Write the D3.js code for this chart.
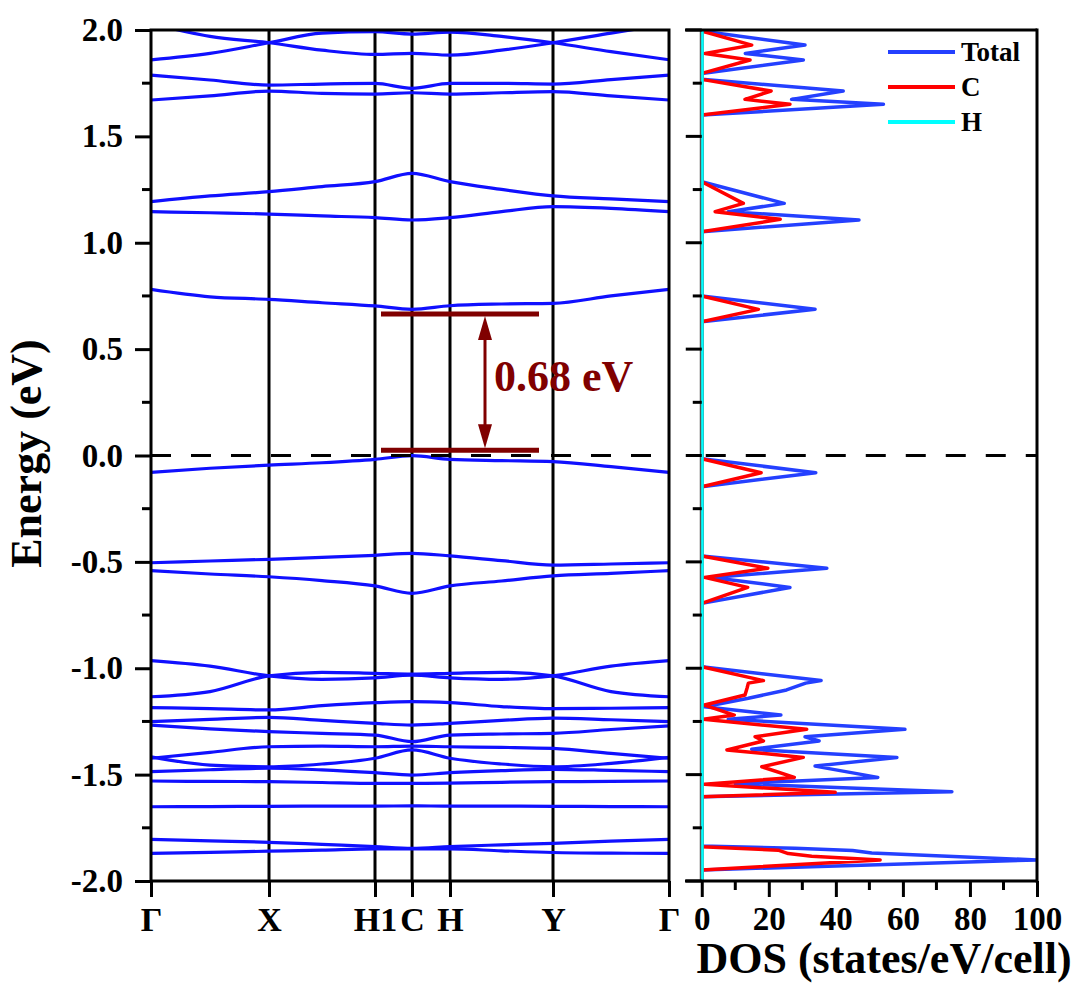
<!DOCTYPE html>
<html><head><meta charset="utf-8">
<script src="https://cdn.jsdelivr.net/npm/d3@7"></script>
<style>
body{margin:0;background:#fff}
svg{display:block}
text{font-family:"Liberation Serif","Times New Roman",serif;font-weight:bold;fill:#000}
</style>
</head><body>
<svg id="chart" width="1080" height="1000"></svg>
<script>
// ---------- data ----------
const kLabels = ["Γ","X","H1","C","H","Y","Γ"];
const kTicks  = [0, 1.18, 2.24, 2.61, 2.99, 4.02, 5.18];
const kGrid   = [0, 0.59, 1.18, 1.71, 2.24, 2.61, 2.99, 3.505, 4.02, 4.60, 5.18];

const band01 = [2.03, 1.97, 1.94, 1.905, 1.885, 1.890, 1.882, 1.905, 1.94, 1.985, 2.03];
const band02 = [1.86, 1.89, 1.94, 1.985, 1.992, 1.981, 1.99, 1.97, 1.94, 1.898, 1.86];
const band03 = [1.788, 1.765, 1.741, 1.746, 1.749, 1.726, 1.749, 1.749, 1.746, 1.767, 1.788];
const band04 = [1.671, 1.690, 1.713, 1.702, 1.699, 1.705, 1.699, 1.705, 1.710, 1.690, 1.671];
const band05 = [1.193, 1.220, 1.240, 1.264, 1.287, 1.326, 1.287, 1.251, 1.220, 1.206, 1.193];
const band06 = [1.146, 1.141, 1.135, 1.126, 1.118, 1.107, 1.118, 1.146, 1.170, 1.162, 1.146];
const band07 = [0.781, 0.746, 0.734, 0.718, 0.703, 0.687, 0.704, 0.712, 0.715, 0.750, 0.781];
const band08 = [-0.079, -0.060, -0.045, -0.034, -0.018, -0.001, -0.018, -0.024, -0.029, -0.052, -0.079];
const band09 = [-0.504, -0.496, -0.488, -0.479, -0.469, -0.460, -0.472, -0.494, -0.515, -0.510, -0.504];
const band10 = [-0.541, -0.557, -0.570, -0.588, -0.613, -0.648, -0.613, -0.590, -0.566, -0.554, -0.541];
const band11 = [-0.964, -0.990, -1.036, -1.052, -1.045, -1.032, -1.045, -1.052, -1.036, -0.990, -0.964];
const band12 = [-1.134, -1.110, -1.036, -1.019, -1.024, -1.028, -1.024, -1.019, -1.036, -1.110, -1.134];
const band13 = [-1.185, -1.190, -1.196, -1.176, -1.162, -1.157, -1.162, -1.180, -1.190, -1.188, -1.185];
const band14 = [-1.251, -1.240, -1.231, -1.245, -1.259, -1.267, -1.259, -1.245, -1.234, -1.242, -1.251];
const band15 = [-1.267, -1.285, -1.298, -1.306, -1.314, -1.345, -1.314, -1.309, -1.306, -1.288, -1.271];
const band16 = [-1.423, -1.395, -1.369, -1.366, -1.369, -1.366, -1.369, -1.372, -1.377, -1.400, -1.423];
const band17 = [-1.416, -1.455, -1.463, -1.450, -1.423, -1.384, -1.423, -1.450, -1.463, -1.447, -1.419];
const band18 = [-1.486, -1.477, -1.470, -1.478, -1.491, -1.502, -1.491, -1.481, -1.475, -1.480, -1.486];
const band19 = [-1.530, -1.532, -1.533, -1.537, -1.541, -1.541, -1.540, -1.536, -1.533, -1.532, -1.530];
const band20 = [-1.651, -1.650, -1.649, -1.648, -1.648, -1.647, -1.648, -1.648, -1.649, -1.650, -1.651];
const band21 = [-1.804, -1.811, -1.818, -1.828, -1.838, -1.846, -1.838, -1.830, -1.823, -1.813, -1.804];
const band22 = [-1.870, -1.865, -1.860, -1.855, -1.849, -1.849, -1.849, -1.858, -1.866, -1.869, -1.870];
const bands = [band01,band02,band03,band04,band05,band06,band07,band08,band09,band10,band11,
               band12,band13,band14,band15,band16,band17,band18,band19,band20,band21,band22];

const energyTicks = [-2, -1.5, -1, -0.5, 0, 0.5, 1, 1.5, 2];
const dosTicks = [0, 20, 40, 60, 80, 100];

const totalE   = [2.05, 1.995, 1.929, 1.890, 1.859, 1.796, 1.768, 1.713, 1.674, 1.651, 1.600,
                  1.287, 1.185, 1.146, 1.107, 1.052, 0.750, 0.687, 0.629, -0.015, -0.081, -0.147,
                  -0.472, -0.530, -0.573, -0.620, -0.695, -0.993, -1.058, -1.070, -1.102, -1.141, -1.181,
                  -1.220, -1.240, -1.287, -1.322, -1.342, -1.381, -1.419, -1.460, -1.513, -1.543, -1.580, -1.604,
                  -1.836, -1.846, -1.857, -1.868, -1.901, -1.948, -2.05];
const totalDOS = [0, 0, 30.8, 13.0, 30.3, 0, 0, 42.2, 26.8, 54.2, 0,
                  0, 24.6, 7.9, 46.9, 0, 0, 33.8, 0, 0, 34.0, 0,
                  0, 37.3, 3.0, 26.3, 0, 0, 35.6, 31.0, 25.3, 13.9, 0.8,
                  23.6, 7.9, 60.6, 30.8, 35.0, 14.9, 58.2, 33.8, 52.5, 10.0, 74.6, 0,
                  0, 27.8, 45.0, 50.7, 100, 0, 0];
const cE   = [2.05, 1.995, 1.929, 1.890, 1.859, 1.796, 1.768, 1.713, 1.674, 1.651, 1.600,
              1.287, 1.185, 1.146, 1.110, 1.052, 0.750, 0.687, 0.629, -0.015, -0.081, -0.147,
              -0.472, -0.530, -0.573, -0.620, -0.695, -0.993, -1.058, -1.070, -1.094, -1.126, -1.173,
              -1.220, -1.240, -1.287, -1.322, -1.342, -1.384, -1.419, -1.463, -1.513, -1.545, -1.583, -1.604,
              -1.839, -1.855, -1.871, -1.884, -1.901, -1.948, -2.05];
const cDOS = [0, 0, 14.9, 1.0, 14.4, 0, 0, 20.7, 12.9, 26.3, 0,
              0, 12.4, 4.0, 23.4, 0, 0, 16.9, 0, 0, 17.7, 0,
              0, 19.7, 0.8, 13.7, 0, 0, 18.4, 13.9, 13.5, 12.9, 0.8,
              9.7, 0.5, 31.3, 15.9, 18.4, 7.5, 30.3, 17.9, 27.6, 0.8, 39.8, 0,
              0, 22.8, 25.8, 32.8, 53.2, 0, 0];
const hE   = [2.05, 1.0, 0.0, -1.0, -2.05];
const hDOS = [0.2, 0.2, 0.2, 0.2, 0.2];

const legendNames  = ["Total", "C", "H"];
const legendColors = ["#2440ff", "#ff0000", "#00ffff"];

const gapTopE = 0.665, gapBottomE = 0.025, gapLabel = "0.68 eV";

// ---------- drawing ----------
const svg = d3.select("#chart");
const L = {x0:151, x1:669, y0:30, y1:881};
const R = {x0:685, x1:1037};

const kx = d3.scaleLinear().domain([0, 5.18]).range([L.x0, L.x1]);
const ey = d3.scaleLinear().domain([-2, 2]).range([L.y1, L.y0]);
const dx = d3.scaleLinear().domain([-5, 100]).range([R.x0, R.x1]);

const defs = svg.append("defs");
defs.append("clipPath").attr("id","clipL").append("rect")
  .attr("x",L.x0).attr("y",L.y0).attr("width",L.x1-L.x0).attr("height",L.y1-L.y0);
defs.append("clipPath").attr("id","clipR").append("rect")
  .attr("x",dx(0)-2).attr("y",L.y0).attr("width",R.x1-dx(0)+2).attr("height",L.y1-L.y0);

// vertical high-symmetry lines
svg.append("g").selectAll("line").data(kTicks.slice(1,-1)).join("line")
  .attr("x1",d=>kx(d)).attr("x2",d=>kx(d)).attr("y1",L.y0).attr("y2",L.y1)
  .attr("stroke","#000").attr("stroke-width",3);

// bands
const bandLine = d3.line().x((d,i)=>kx(kGrid[i])).y(d=>ey(d)).curve(d3.curveMonotoneX);
svg.append("g").attr("clip-path","url(#clipL)").selectAll("path").data(bands).join("path")
  .attr("d",bandLine).attr("fill","none").attr("stroke","#1010ff").attr("stroke-width",3.2);

// Fermi dashed line
svg.append("line").attr("x1",L.x0).attr("x2",L.x1).attr("y1",ey(0)).attr("y2",ey(0))
  .attr("stroke","#000").attr("stroke-width",3).attr("stroke-dasharray","20,20");
svg.append("line").attr("x1",dx(0)).attr("x2",R.x1).attr("y1",ey(0)).attr("y2",ey(0))
  .attr("stroke","#000").attr("stroke-width",3).attr("stroke-dasharray","20,20").attr("stroke-dashoffset",-4);

// left panel frame
svg.append("rect").attr("x",L.x0).attr("y",L.y0).attr("width",L.x1-L.x0).attr("height",L.y1-L.y0)
  .attr("fill","none").attr("stroke","#000").attr("stroke-width",3);

// left y axis
const yAxisL = d3.axisLeft(ey).tickValues(energyTicks).tickSize(16).tickPadding(12)
  .tickFormat(d=>d.toFixed(1));
const gyl = svg.append("g").attr("transform",`translate(${L.x0},0)`).call(yAxisL);
gyl.select(".domain").remove();
gyl.selectAll(".tick line").attr("stroke","#000").attr("stroke-width",3);
gyl.selectAll(".tick text").style("font-size","33px").attr("fill","#000");
const minorE = d3.range(-1.75, 2, 0.5);
svg.append("g").selectAll("line").data(minorE).join("line")
  .attr("x1",L.x0-9).attr("x2",L.x0).attr("y1",d=>ey(d)).attr("y2",d=>ey(d))
  .attr("stroke","#000").attr("stroke-width",3);

// k axis
const kAxis = d3.axisBottom(kx).tickValues(kTicks).tickSize(16).tickPadding(10)
  .tickFormat((d,i)=>kLabels[i]);
const gk = svg.append("g").attr("transform",`translate(0,${L.y1})`).call(kAxis);
gk.select(".domain").remove();
gk.selectAll(".tick line").attr("stroke","#000").attr("stroke-width",3);
gk.selectAll(".tick text").style("font-size","34px").attr("fill","#000");

// Gap annotation
const ann = "#800000";
const ax0 = kx(2.30), ax1 = kx(3.88), axm = kx(3.34);
[gapTopE, gapBottomE].forEach(e=>{
  svg.append("line").attr("x1",ax0).attr("x2",ax1).attr("y1",ey(e)).attr("y2",ey(e))
    .attr("stroke",ann).attr("stroke-width",5);
});
svg.append("line").attr("x1",axm).attr("x2",axm).attr("y1",ey(gapTopE)+20).attr("y2",ey(gapBottomE)-20)
  .attr("stroke",ann).attr("stroke-width",3);
const yt = ey(gapTopE)+2, yb = ey(gapBottomE)-2;
svg.append("path").attr("d",`M${axm},${yt} L${axm-7},${yt+24} L${axm+7},${yt+24}Z`).attr("fill",ann);
svg.append("path").attr("d",`M${axm},${yb} L${axm-7},${yb-24} L${axm+7},${yb-24}Z`).attr("fill",ann);
svg.append("text").attr("x",axm+9).attr("y",ey(0.305)).text(gapLabel)
  .style("font-size","44px").style("fill",ann);

// Energy title
svg.append("text").attr("transform",`translate(41,${ey(0)-2}) rotate(-90)`)
  .attr("text-anchor","middle").style("font-size","44px").text("Energy (eV)");

// ---------- DOS panel ----------
const dosLine = (E)=> d3.line().x(d=>dx(d)).y((d,i)=>ey(E[i])).curve(d3.curveLinear);
const gd = svg.append("g").attr("clip-path","url(#clipR)");
gd.append("path").datum(totalDOS).attr("d",dosLine(totalE)).attr("fill","none")
  .attr("stroke",legendColors[0]).attr("stroke-width",3.5).attr("stroke-linejoin","round");
gd.append("path").datum(cDOS).attr("d",dosLine(cE)).attr("fill","none")
  .attr("stroke",legendColors[1]).attr("stroke-width",3.5).attr("stroke-linejoin","round");
svg.append("line").attr("x1",dx(0)).attr("x2",dx(0)).attr("y1",L.y0).attr("y2",L.y1)
  .attr("stroke","#555").attr("stroke-width",4);
svg.append("path").datum(hDOS).attr("d",dosLine(hE)).attr("fill","none")
  .attr("stroke",legendColors[2]).attr("stroke-width",2.5).attr("clip-path","url(#clipR)");

// DOS frame
svg.append("line").attr("x1",R.x0).attr("x2",R.x1).attr("y1",L.y0).attr("y2",L.y0).attr("stroke","#000").attr("stroke-width",3);
svg.append("line").attr("x1",R.x0).attr("x2",R.x1).attr("y1",L.y1).attr("y2",L.y1).attr("stroke","#000").attr("stroke-width",3);
svg.append("line").attr("x1",R.x1).attr("x2",R.x1).attr("y1",L.y0-1.5).attr("y2",L.y1+1.5).attr("stroke","#000").attr("stroke-width",3);

// DOS y ticks (no labels)
svg.append("g").selectAll("line").data(energyTicks).join("line")
  .attr("x1",dx(0)-16).attr("x2",dx(0)).attr("y1",d=>ey(d)).attr("y2",d=>ey(d))
  .attr("stroke","#000").attr("stroke-width",3);
svg.append("g").selectAll("line").data(minorE).join("line")
  .attr("x1",dx(0)-9).attr("x2",dx(0)).attr("y1",d=>ey(d)).attr("y2",d=>ey(d))
  .attr("stroke","#000").attr("stroke-width",3);

// DOS x axis
const dAxis = d3.axisBottom(dx).tickValues(dosTicks).tickSize(16).tickPadding(10);
const gdx = svg.append("g").attr("transform",`translate(0,${L.y1})`).call(dAxis);
gdx.select(".domain").remove();
gdx.selectAll(".tick line").attr("stroke","#000").attr("stroke-width",3);
gdx.selectAll(".tick text").style("font-size","33px").attr("fill","#000");
svg.append("g").selectAll("line").data(d3.range(10,100,20)).join("line")
  .attr("x1",d=>dx(d)).attr("x2",d=>dx(d)).attr("y1",L.y1).attr("y2",L.y1+9)
  .attr("stroke","#000").attr("stroke-width",3);

svg.append("text").attr("x",884).attr("y",973).attr("text-anchor","middle")
  .style("font-size","44px").text("DOS (states/eV/cell)");

// legend
const lg = svg.append("g");
legendNames.forEach((n,i)=>{
  const y = 52 + i*35;
  lg.append("line").attr("x1",888).attr("x2",955).attr("y1",y).attr("y2",y)
    .attr("stroke",legendColors[i]).attr("stroke-width",4);
  lg.append("text").attr("x",961).attr("y",y+9).style("font-size","27px").text(n);
});
</script>
</body></html>
